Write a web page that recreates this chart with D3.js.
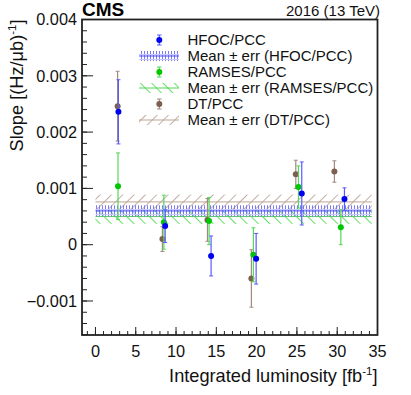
<!DOCTYPE html>
<html><head><meta charset="utf-8">
<script src="https://cdn.jsdelivr.net/npm/d3@7"></script>
<style>body{margin:0;background:#fff}svg{display:block}text{font-family:"Liberation Sans",Arial,sans-serif}</style>
</head><body>
<script>
// ---- data (slopes in 1e-3 (Hz/ub)^-1) ----
const hfocX   = [2.85, 8.65, 14.35, 19.94, 25.6, 30.9];
const hfocY   = [2.36, 0.33, -0.20, -0.25, 0.91, 0.81];
const hfocErr = [0.57, 0.29, 0.355, 0.45, 0.56, 0.20];
const ramsesX   = [2.8, 8.49, 14.1, 19.6, 25.19, 30.45];
const ramsesY   = [1.04, 0.40, 0.42, -0.18, 1.025, 0.31];
const ramsesErr = [0.59, 0.48, 0.42, 0.48, 0.375, 0.31];
const dtX   = [2.75, 8.31, 13.9, 19.35, 24.86, 29.65];
const dtY   = [2.46, 0.10, 0.44, -0.60, 1.25, 1.30];
const dtErr = [0.62, 0.22, 0.38, 0.51, 0.25, 0.19];
const meanNames = ["HFOC/PCC", "RAMSES/PCC", "DT/PCC"];
const meanVal = [0.60, 0.50, 0.76];
const meanErr = [0.10, 0.13, 0.13];
const bandRange = [0, 34.3];
const xTicks = [0, 5, 10, 15, 20, 25, 30, 35];
const yTicks = [-1, 0, 1, 2, 3, 4];
const yTickLabels = ["\u22120.001", "0", "0.001", "0.002", "0.003", "0.004"];

const W = 411, H = 395;
const L = 82, R = 377.5, T = 19.5, B = 335;
const svg = d3.select("body").append("svg").attr("width", W).attr("height", H);
const x = d3.scaleLinear().domain([-1.67, 35]).range([L, R]);
const y = d3.scaleLinear().domain([-1.604, 4]).range([B, T]);

const defs = svg.append("defs");
// blue pattern: vertical dashes
const pb = defs.append("pattern").attr("id","hb").attr("patternUnits","userSpaceOnUse").attr("width",3).attr("height",5);
pb.append("rect").attr("x",0).attr("y",0).attr("width",1).attr("height",4).attr("fill","#7a7aff");
pb.append("rect").attr("x",0).attr("y",4).attr("width",3).attr("height",1).attr("fill","#c8c8ff");
// green pattern "\\"
const pg = defs.append("pattern").attr("id","hg").attr("patternUnits","userSpaceOnUse").attr("width",8).attr("height",8).attr("patternTransform","rotate(-45)");
pg.append("line").attr("x1",0.5).attr("y1",0).attr("x2",0.5).attr("y2",8).attr("stroke","#66e066").attr("stroke-width",1);
// brown pattern "//"
const pr = defs.append("pattern").attr("id","hr").attr("patternUnits","userSpaceOnUse").attr("width",8).attr("height",8).attr("patternTransform","rotate(45)");
pr.append("line").attr("x1",0.5).attr("y1",0).attr("x2",0.5).attr("y2",8).attr("stroke","#c4afa3").attr("stroke-width",1);

const colors = { hfoc: "#0000f0", ramses: "#00c800", dt: "#7d5f50" };
const barColors = { hfoc: "#5a5aff", ramses: "#55d855", dt: "#a08a7e" };
const bandFill = ["url(#hb)", "url(#hg)", "url(#hr)"];
const bandLine = ["#4a4aff", "#55d455", "#bba596"];

// bands: DT, RAMSES, HFOC
[2, 1, 0].forEach(i => {
  const g = svg.append("g");
  g.append("rect").attr("x", x(bandRange[0])).attr("width", x(bandRange[1]) - x(bandRange[0]))
    .attr("y", y(meanVal[i] + meanErr[i])).attr("height", y(meanVal[i] - meanErr[i]) - y(meanVal[i] + meanErr[i]))
    .attr("fill", bandFill[i]);
  g.append("line").attr("x1", x(bandRange[0])).attr("x2", x(bandRange[1]))
    .attr("y1", y(meanVal[i])).attr("y2", y(meanVal[i])).attr("stroke", bandLine[i]).attr("stroke-width", 1);
});

function drawSeries(xs, ys, es, key) {
  const g = svg.append("g");
  xs.forEach((xv, i) => {
    const cx = x(xv), y1 = y(ys[i] + es[i]), y2 = y(ys[i] - es[i]);
    g.append("line").attr("x1", cx).attr("x2", cx).attr("y1", y1).attr("y2", y2).attr("stroke", barColors[key]).attr("stroke-width", 1.2);
    [y1, y2].forEach(yy => g.append("line").attr("x1", cx - 2).attr("x2", cx + 2).attr("y1", yy).attr("y2", yy).attr("stroke", barColors[key]).attr("stroke-width", 1));
    g.append("circle").attr("cx", cx).attr("cy", y(ys[i])).attr("r", 3).attr("fill", colors[key]);
  });
}
drawSeries(dtX, dtY, dtErr, "dt");
drawSeries(ramsesX, ramsesY, ramsesErr, "ramses");
drawSeries(hfocX, hfocY, hfocErr, "hfoc");

// frame
svg.append("rect").attr("x", L).attr("y", T).attr("width", R - L).attr("height", B - T)
  .attr("fill", "none").attr("stroke", "#222").attr("stroke-width", 1.8);

// y axis ticks (inward)
const ya = svg.append("g").attr("transform", `translate(${L},0)`);
const yMinor = d3.range(-1.6, 4.001, 0.2).map(v => +v.toFixed(1));
yMinor.forEach(v => ya.append("line").attr("x1", 0).attr("x2", 5).attr("y1", y(v)).attr("y2", y(v)).attr("stroke", "#222"));
yTicks.forEach((v, i) => {
  ya.append("line").attr("x1", 0).attr("x2", 11).attr("y1", y(v)).attr("y2", y(v)).attr("stroke", "#222");
  ya.append("text").attr("x", -5).attr("y", y(v)).attr("dy", "0.35em").attr("text-anchor", "end")
    .attr("font-size", 16.3).attr("fill", "#111").text(yTickLabels[i]);
});
// x axis ticks (inward)
const xa = svg.append("g").attr("transform", `translate(0,${B})`);
d3.range(-1, 36, 1).forEach(v => xa.append("line").attr("x1", x(v)).attr("x2", x(v)).attr("y1", 0).attr("y2", -4).attr("stroke", "#222"));
xTicks.forEach(v => {
  xa.append("line").attr("x1", x(v)).attr("x2", x(v)).attr("y1", 0).attr("y2", -8).attr("stroke", "#222");
  xa.append("text").attr("x", x(v)).attr("y", 22).attr("text-anchor", "middle").attr("font-size", 16.3).attr("fill", "#111").text(v);
});

// axis titles
const xt = svg.append("text").attr("x", R).attr("y", 382).attr("text-anchor", "end").attr("font-size", 18.2).attr("fill", "#111");
xt.append("tspan").text("Integrated luminosity [fb");
xt.append("tspan").attr("font-size", 11.5).attr("dy", -7).text("-1");
xt.append("tspan").attr("dy", 7).text("]");
const yt = svg.append("text").attr("transform", `translate(23,${T}) rotate(-90)`).attr("text-anchor", "end").attr("font-size", 18.2).attr("fill", "#111");
yt.append("tspan").text("Slope [(Hz/\u03bcb)");
yt.append("tspan").attr("font-size", 11.5).attr("dy", -7).text("-1");
yt.append("tspan").attr("dy", 7).text("]");

// header
svg.append("text").attr("x", L).attr("y", 16).attr("font-size", 19).attr("font-weight", "bold").attr("fill", "#000").text("CMS");
svg.append("text").attr("x", 380).attr("y", 15.5).attr("text-anchor", "end").attr("font-size", 15).attr("fill", "#111").text("2016 (13 TeV)");

// legend
const legRows = [
  { type: "pt", key: "hfoc", label: "HFOC/PCC" },
  { type: "band", i: 0, label: "Mean \u00b1 err (HFOC/PCC)" },
  { type: "pt", key: "ramses", label: "RAMSES/PCC" },
  { type: "band", i: 1, label: "Mean \u00b1 err (RAMSES/PCC)" },
  { type: "pt", key: "dt", label: "DT/PCC" },
  { type: "band", i: 2, label: "Mean \u00b1 err (DT/PCC)" }
];
const lg = svg.append("g");
legRows.forEach((r, k) => {
  const yc = 40 + 16 * k;
  if (r.type === "pt") {
    lg.append("line").attr("x1", 159.3).attr("x2", 159.3).attr("y1", yc - 5).attr("y2", yc + 5).attr("stroke", barColors[r.key]).attr("stroke-width", 1.2);
    [yc - 5, yc + 5].forEach(yy => lg.append("line").attr("x1", 157).attr("x2", 161.6).attr("y1", yy).attr("y2", yy).attr("stroke", barColors[r.key]));
    lg.append("circle").attr("cx", 159.3).attr("cy", yc).attr("r", 3).attr("fill", colors[r.key]);
  } else {
    lg.append("rect").attr("x", 139).attr("y", yc - 5).attr("width", 40).attr("height", 10).attr("fill", bandFill[r.i]);
    lg.append("line").attr("x1", 139).attr("x2", 179).attr("y1", yc).attr("y2", yc).attr("stroke", bandLine[r.i]);
  }
  lg.append("text").attr("x", 187.5).attr("y", yc).attr("dy", "0.35em").attr("font-size", 15).attr("fill", "#111").text(r.label);
});
</script>
</body></html>
